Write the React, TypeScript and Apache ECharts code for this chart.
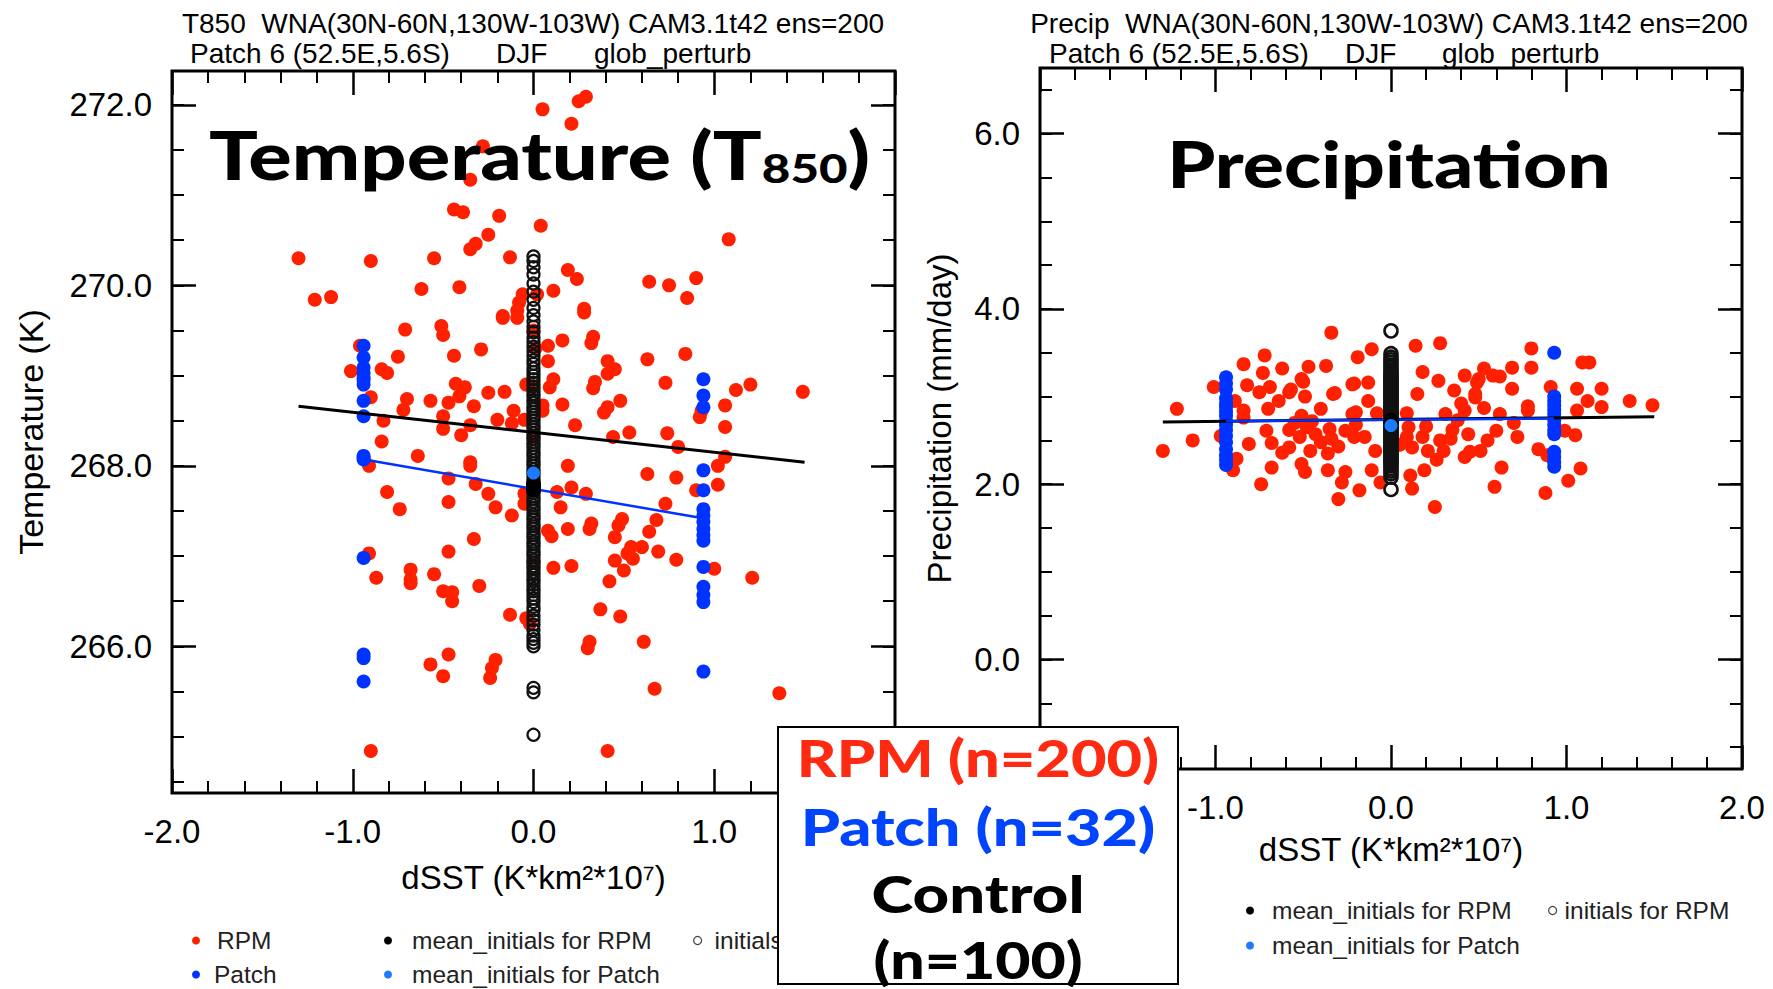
import React, { useEffect, useRef } from "react";
import * as echarts from "echarts";

// ---------------- DATA ----------------
// Left panel: T850 (K) vs dSST
const tempRPM: number[][] = [
  [0.05, 271.95], [0.25, 272.04], [0.29, 272.09], [0.21, 271.79], [-0.28, 271.54], [-0.35, 271.17],
  [-0.44, 270.84], [-0.39, 270.81], [-0.19, 270.77], [0.04, 270.66], [-0.25, 270.56], [-0.32, 270.46],
  [-0.35, 270.4], [1.08, 270.51], [-1.3, 270.3], [-0.9, 270.27], [-0.55, 270.3], [-0.13, 270.31],
  [0.19, 270.17], [0.24, 270.07], [0.11, 269.94], [0.64, 270.04], [0.75, 270.0], [0.9, 270.08],
  [0.85, 269.86], [-1.21, 269.84], [-1.12, 269.87], [-0.62, 269.96], [-0.41, 269.98], [0.28, 269.74],
  [-0.06, 269.9], [-0.08, 269.81], [-0.17, 269.66], [-0.09, 269.72],
  [-0.71, 269.51], [-0.51, 269.55], [-0.5, 269.45], [-0.17, 269.64], [-0.09, 269.64], [0.28, 269.7],
  [-0.96, 269.33], [-0.75, 269.21], [-0.44, 269.22], [-0.29, 269.29], [0.16, 269.39], [0.08, 269.33],
  [0.33, 269.43], [0.32, 269.36], [0.63, 269.18], [0.84, 269.24], [-1.01, 269.05], [-0.84, 269.07],
  [-0.81, 269.03], [0.08, 269.16], [0.41, 269.16], [0.45, 269.07], [0.41, 269.02], [0.73, 268.92],
  [-0.43, 268.91], [-0.38, 268.87], [-0.25, 268.81], [-0.16, 268.82], [-0.04, 268.9], [0.11, 268.96],
  [0.09, 268.87], [0.34, 268.93], [0.33, 268.86], [1.12, 268.84], [1.2, 268.9], [1.49, 268.82],
  [-0.9, 268.76], [-0.7, 268.74], [-0.57, 268.72], [-0.47, 268.7], [-0.41, 268.77], [-0.33, 268.66],
  [-0.72, 268.62], [-0.11, 268.61], [0.16, 268.68], [0.05, 268.67], [0.05, 268.61], [0.48, 268.72],
  [0.39, 268.59], [0.41, 268.65], [1.06, 268.67], [0.92, 268.54], [0.93, 268.61], [-0.5, 268.55],
  [-0.83, 268.5], [-0.5, 268.41], [-0.4, 268.34], [-0.35, 268.45], [-0.2, 268.51], [-0.12, 268.47],
  [-0.05, 268.51], [0.23, 268.45], [0.44, 268.32], [0.53, 268.37], [0.74, 268.36], [0.8, 268.21],
  [1.06, 268.43], [-0.84, 268.27], [-0.64, 268.11], [-0.91, 268.0], [-0.35, 268.04], [-0.35, 268.0],
  [0.19, 268.0], [1.02, 268.0], [1.06, 268.1], [0.63, 267.91], [0.79, 267.87], [-0.47, 267.86],
  [-0.32, 267.8], [1.02, 267.79], [0.9, 267.73], [-0.81, 267.71], [-0.25, 267.69], [-0.05, 267.69],
  [0.13, 267.71], [0.21, 267.76], [0.29, 267.69], [-0.74, 267.52], [-0.47, 267.6], [-0.21, 267.54],
  [-0.05, 267.58], [0.15, 267.54], [-0.12, 267.45], [0.73, 267.58], [0.49, 267.41], [0.68, 267.4],
  [0.32, 267.36], [0.31, 267.3], [0.19, 267.3], [0.47, 267.34], [0.64, 267.27], [0.08, 267.28],
  [0.1, 267.22], [-0.33, 267.19], [0.45, 267.21], [0.54, 267.1], [0.6, 267.1], [0.69, 267.05],
  [-0.91, 267.03], [-0.47, 267.05],
  [-0.87, 266.76], [-0.68, 266.85], [-0.68, 266.74], [-0.68, 266.7], [-0.55, 266.8], [-0.5, 266.61],
  [-0.45, 266.6], [-0.45, 266.5], [-0.3, 266.67], [0.11, 266.87], [0.21, 266.89], [0.45, 266.95],
  [0.52, 267.03], [0.55, 266.97], [0.5, 266.84], [0.79, 266.96], [1.0, 266.86], [1.21, 266.76],
  [0.42, 266.72], [-0.13, 266.35], [-0.04, 266.31], [-0.02, 266.25], [0.37, 266.41], [0.48, 266.33],
  [0.31, 266.05], [0.3, 265.98], [0.61, 266.05], [-0.47, 265.91], [-0.57, 265.8], [-0.5, 265.67],
  [-0.21, 265.85], [-0.23, 265.76], [-0.24, 265.65], [0.67, 265.53], [1.36, 265.48], [-0.9, 264.84],
  [0.41, 264.84],
  [0.0, 269.5], [0.01, 269.3], [-0.01, 268.88], [0.0, 266.93], [0.02, 269.9], [0.0, 268.3]
];
const tempPatch: number[][] = [
  [-0.94, 269.33], [-0.94, 269.2], [-0.94, 269.09], [-0.94, 269.03], [-0.94, 268.98], [-0.94, 268.95],
  [-0.94, 268.9], [-0.94, 268.72], [-0.94, 268.55], [-0.94, 268.11], [-0.94, 268.09], [-0.94, 268.07],
  [-0.94, 266.98], [-0.94, 265.91], [-0.94, 265.87], [-0.94, 265.61],
  [0.94, 268.96], [0.94, 268.78], [0.94, 268.65], [0.94, 267.95], [0.94, 267.73], [0.94, 267.52],
  [0.94, 267.45], [0.94, 267.38], [0.94, 267.3], [0.94, 267.23], [0.94, 267.17], [0.94, 266.88],
  [0.94, 266.66], [0.94, 266.57], [0.94, 266.49], [0.94, 265.72]
];
const tempInitials: number[] = [
  265.02, 265.49, 265.54, 266.0, 266.04, 266.08, 266.12, 266.18, 266.24, 266.29, 266.34, 266.4, 266.44,
  266.49, 266.53, 266.57, 266.61, 266.64, 266.68, 266.72, 266.75, 266.79, 266.82, 266.86, 266.89,
  266.93, 266.96, 267.0, 267.03, 267.06, 267.1, 267.13, 267.16, 267.2, 267.23, 267.26, 267.3, 267.33,
  267.36, 267.4, 267.43, 267.46, 267.5, 267.53, 267.56, 267.6, 267.63, 267.66, 267.7, 267.73, 267.76,
  267.8, 267.83, 267.86, 267.9, 267.93, 267.96, 268.0, 268.03, 268.06, 268.1, 268.13, 268.16, 268.2,
  268.23, 268.26, 268.3, 268.33, 268.36, 268.4, 268.43, 268.46, 268.5, 268.53, 268.56, 268.6, 268.63,
  268.66, 268.7, 268.73, 268.77, 268.8, 268.84, 268.88, 268.92, 268.96, 269.0, 269.04, 269.08, 269.13,
  269.17, 269.22, 269.27, 269.32, 269.37, 269.42, 269.48, 269.54, 269.6, 269.67, 269.75, 269.84,
  269.93, 270.02, 270.12, 270.2, 270.27, 270.32
];
const tempMeanInitRPM: number[] = [267.73, 267.77, 267.8];
const tempMeanInitPatch: number[] = [267.92];
const tempFitRPM: number[][] = [[-1.3, 268.66], [1.5, 268.04]];
const tempFitPatch: number[][] = [[-0.937, 268.07], [0.906, 267.43]];
const tempXLabels: number[] = [-2, -1, 0, 1];
const tempYMajor: number[] = [266, 268, 270, 272];
const tempYMinor: number[] = [264.5, 265, 265.5, 266, 266.5, 267, 267.5, 268, 268.5, 269, 269.5, 270, 270.5, 271, 271.5, 272];

// Right panel: Precipitation (mm/day) vs dSST
const precRPM: number[][] = [
  [-0.34, 3.73], [0.28, 3.61], [0.14, 3.58], [-0.11, 3.54], [0.8, 3.55], [-0.72, 3.47], [-0.19, 3.45],
  [-0.84, 3.37], [-0.62, 3.32], [-0.47, 3.34], [-0.37, 3.35], [1.09, 3.39], [1.13, 3.39], [0.69, 3.33],
  [0.8, 3.33], [0.53, 3.32], [-0.73, 3.27], [-0.51, 3.2], [0.18, 3.28], [0.42, 3.24], [0.58, 3.24],
  [-1.01, 3.11], [-0.82, 3.13], [-0.22, 3.14], [-0.13, 3.16], [0.27, 3.18], [0.49, 3.16], [1.2, 3.09],
  [1.06, 3.09], [-0.75, 3.05], [-0.33, 3.03], [-0.58, 3.05], [0.36, 3.07], [0.69, 3.09], [-1.22, 2.86],
  [-0.89, 2.95], [-0.64, 2.95], [-0.13, 2.95], [0.15, 3.03], [0.48, 2.99], [1.36, 2.95], [1.49, 2.9],
  [1.2, 2.88], [1.06, 2.84], [-0.4, 2.86], [-0.2, 2.82], [0.42, 2.84], [0.62, 2.8], [0.78, 2.84],
  [-0.84, 2.84],
  [-0.69, 3.11], [-0.57, 3.08], [-0.5, 3.17], [-0.49, 3.0], [-0.32, 3.04], [-0.21, 3.15], [0.5, 3.2],
  [0.48, 3.03], [0.4, 2.92], [0.53, 2.87], [0.62, 3.23], [0.78, 2.89], [0.91, 3.11],
  [-0.84, 2.76], [-0.71, 2.61], [-0.51, 2.78], [-0.22, 2.8], [-0.08, 2.81], [0.09, 2.81], [0.31, 2.8],
  [-1.13, 2.5], [-1.3, 2.38], [-0.81, 2.46], [-0.68, 2.47], [-0.58, 2.62], [-0.52, 2.54], [-0.48, 2.65],
  [-0.43, 2.57], [-0.4, 2.48], [-0.35, 2.63], [-0.34, 2.52], [-0.3, 2.43], [-0.46, 2.38], [-0.36, 2.35],
  [-0.26, 2.61], [-0.21, 2.54], [-0.15, 2.54], [-0.09, 2.38], [0.1, 2.65], [0.09, 2.54], [0.18, 2.54],
  [0.12, 2.42], [0.21, 2.38], [0.28, 2.5], [0.34, 2.52], [0.3, 2.38], [0.38, 2.73], [0.44, 2.57],
  [0.42, 2.31], [0.45, 2.37], [0.51, 2.38], [0.6, 2.61], [0.63, 2.19], [0.72, 2.54], [0.84, 2.4],
  [0.89, 2.33], [0.99, 2.61], [1.05, 2.56], [1.08, 2.18], [1.01, 2.04], [0.88, 1.9], [0.59, 1.97],
  [0.25, 1.74], [0.12, 1.95], [0.11, 2.1], [0.19, 2.16], [-0.06, 2.02], [-0.11, 2.16], [-0.18, 1.93],
  [-0.3, 1.83], [-0.28, 2.02], [-0.26, 2.14], [-0.36, 2.16], [-0.49, 2.14], [-0.51, 2.23], [-0.68, 2.19],
  [-0.74, 2.0], [-0.9, 2.16], [-0.88, 2.29],
  [-0.58, 2.42], [-0.55, 2.7], [-0.45, 2.72], [-0.62, 2.36], [0.2, 2.66], [0.35, 2.62], [0.55, 2.5],
  [-0.2, 2.68], [0.05, 2.45], [-0.7, 2.86], [0.7, 2.7], [-0.97, 2.55], [1.12, 2.95], [0.26, 2.28]
];
const precPatch: number[][] = [
  [-0.94, 3.22], [-0.94, 3.15], [-0.94, 3.08], [-0.94, 2.98], [-0.94, 2.92], [-0.94, 2.88],
  [-0.94, 2.83], [-0.94, 2.78], [-0.94, 2.72], [-0.94, 2.68], [-0.94, 2.62], [-0.94, 2.55],
  [-0.94, 2.48], [-0.94, 2.4], [-0.94, 2.33], [-0.94, 2.28], [-0.94, 2.22],
  [0.93, 3.5], [0.93, 3.0], [0.93, 2.95], [0.93, 2.9], [0.93, 2.85], [0.93, 2.8], [0.93, 2.74],
  [0.93, 2.68], [0.93, 2.62], [0.93, 2.57], [0.93, 2.37], [0.93, 2.31], [0.93, 2.25], [0.93, 2.2]
];
const precInitials: number[] = [
  1.94, 2.08, 2.12, 2.15, 2.18, 2.21, 2.23, 2.25, 2.27, 2.29, 2.31, 2.33, 2.35, 2.37, 2.39, 2.41, 2.43,
  2.45, 2.47, 2.49, 2.51, 2.53, 2.55, 2.57, 2.59, 2.61, 2.63, 2.65, 2.67, 2.69, 2.71, 2.73, 2.75, 2.77,
  2.79, 2.81, 2.83, 2.85, 2.87, 2.89, 2.91, 2.93, 2.95, 2.97, 2.99, 3.01, 3.03, 3.05, 3.07, 3.09, 3.11,
  3.13, 3.15, 3.17, 3.19, 3.21, 3.23, 3.25, 3.27, 3.3, 3.33, 3.36, 3.39, 3.42, 3.45, 3.49, 3.75
];
const precMeanInitRPM: number[] = [2.71, 2.73];
const precMeanInitPatch: number[] = [2.67];
const precFitRPM: number[][] = [[-1.3, 2.71], [1.5, 2.77]];
const precFitPatch: number[][] = [[-0.94, 2.72], [0.93, 2.75]];
const precXLabels: number[] = [-1, 0, 1, 2];
const precYMajor: number[] = [0, 2, 4, 6];
const precYMinor: number[] = [-1, -0.5, 0, 0.5, 1, 1.5, 2, 2.5, 3, 3.5, 4, 4.5, 5, 5.5, 6, 6.5];

const xTickMin = -2;
const xTickMax = 2;

const RED = "#ff2000";
const BLUE = "#0033ff";
const LIGHTBLUE = "#1e7bff";
const FONT = "Liberation Sans, Arial, sans-serif";
const BIGFONT = "Lato, Noto Sans, sans-serif";

function fmt1(v: number) {
  return Number(v).toFixed(1);
}

function xAxes(gridIndex: number, nameGap: number, labels: number[]) {
  const common = {
    gridIndex,
    type: "value",
    min: xTickMin,
    max: xTickMax,
    interval: 1,
    axisLine: { show: false, onZero: false },
    axisTick: { show: true, inside: true, length: 24, lineStyle: { color: "#000", width: 2.5 } },
    minorTick: { show: true, splitNumber: 5, length: 12, lineStyle: { color: "#000", width: 2 } },
    splitLine: { show: false },
    minorSplitLine: { show: false },
  };
  return [
    {
      ...common,
      position: "bottom",
      axisLabel: { show: true, customValues: labels, margin: 22, formatter: fmt1, fontSize: 33, fontFamily: FONT, color: "#000" },
      name: "dSST (K*km²*10⁷)",
      nameLocation: "middle",
      nameGap,
      nameTextStyle: { fontSize: 33, fontFamily: FONT, color: "#000" },
    },
    { ...common, position: "top", axisLabel: { show: false } },
  ];
}

function yAxes(gridIndex: number, min: number, max: number, majors: number[], minors: number[], name: string, nameGap: number, nameSize: number) {
  const base = {
    gridIndex,
    type: "value",
    min,
    max,
    axisLine: { show: false, onZero: false },
    splitLine: { show: false },
  };
  const major = { show: true, inside: true, length: 24, customValues: majors, lineStyle: { color: "#000", width: 2.5 } };
  const minor = { show: true, inside: true, length: 12, customValues: minors, lineStyle: { color: "#000", width: 2 } };
  return [
    {
      ...base,
      position: "left",
      axisTick: major,
      axisLabel: { show: true, customValues: majors, margin: 20, formatter: fmt1, fontSize: 33, fontFamily: FONT, color: "#000" },
      name,
      nameLocation: "middle",
      nameRotate: 90,
      nameGap,
      nameTextStyle: { fontSize: nameSize, fontFamily: FONT, color: "#000" },
    },
    { ...base, position: "left", axisTick: minor, axisLabel: { show: false } },
    { ...base, position: "right", axisTick: major, axisLabel: { show: false } },
    { ...base, position: "right", axisTick: minor, axisLabel: { show: false } },
  ];
}

function panelSeries(xi: number, yi: number, rpm: number[][], patch: number[][], initials: number[], meanR: number[], meanP: number[], fitR: number[][], fitP: number[][], ringSize: number, ringW: number) {
  return [
    { type: "scatter", name: "RPM", xAxisIndex: xi, yAxisIndex: yi, data: rpm, symbol: "circle", symbolSize: 14, itemStyle: { color: RED, opacity: 1 }, z: 2 },
    { type: "scatter", name: "Patch", xAxisIndex: xi, yAxisIndex: yi, data: patch, symbol: "circle", symbolSize: 14, itemStyle: { color: BLUE, opacity: 1 }, z: 3 },
    {
      type: "scatter", name: "initials for RPM", xAxisIndex: xi, yAxisIndex: yi,
      data: initials.map((v) => [0, v]), symbol: "circle", symbolSize: ringSize,
      itemStyle: { color: "rgba(0,0,0,0)", borderColor: "#111", borderWidth: ringW, opacity: 1 }, z: 4,
    },
    { type: "line", name: "fit RPM", xAxisIndex: xi, yAxisIndex: yi, data: fitR, symbol: "none", showSymbol: false, lineStyle: { color: "#000", width: 3 }, z: 5 },
    { type: "line", name: "fit Patch", xAxisIndex: xi, yAxisIndex: yi, data: fitP, symbol: "none", showSymbol: false, lineStyle: { color: BLUE, width: 2.5 }, z: 5 },
    { type: "scatter", name: "mean_initials for RPM", xAxisIndex: xi, yAxisIndex: yi, data: meanR.map((v) => [0, v]), symbol: "circle", symbolSize: 15, itemStyle: { color: "#000", opacity: 1 }, z: 6 },
    { type: "scatter", name: "mean_initials for Patch", xAxisIndex: xi, yAxisIndex: yi, data: meanP.map((v) => [0, v]), symbol: "circle", symbolSize: 13, itemStyle: { color: LIGHTBLUE, opacity: 1 }, z: 6 },
  ];
}

function legendItem(name: string, left: number, top: number, pad: number, hollow?: boolean) {
  const item: any = { name, icon: "circle" };
  if (hollow) item.itemStyle = { color: "#fff", borderColor: "#444", borderWidth: 1.2 };
  return {
    data: [item],
    left,
    top,
    padding: 0,
    itemWidth: 8,
    itemHeight: 8,
    selectedMode: false,
    textStyle: { fontSize: 24.5, fontFamily: FONT, color: "#222", padding: [0, 0, 0, pad] },
  };
}

function txt(text: string, x: number, y: number, fontSize: number, align = "left", extra: any = {}, scaleX = 1) {
  return {
    type: "text",
    x,
    y,
    z: 100,
    scaleX,
    style: {
      text,
      fontSize,
      fontFamily: FONT,
      fill: "#000",
      align,
      verticalAlign: "middle",
      textAlign: align,
      textVerticalAlign: "middle",
      ...extra,
    },
  };
}

const BIG = { fontFamily: BIGFONT, fontWeight: 900 };

export default function App() {
  const ref = useRef<HTMLDivElement>(null);
  useEffect(() => {
    if (!ref.current) return;
    const chart = echarts.init(ref.current, null, { renderer: "svg" });
    const option: any = {
      animation: false,
      backgroundColor: "#fff",
      grid: [
        { left: 172, top: 71, width: 723, height: 722, show: true, borderColor: "#000", borderWidth: 3, backgroundColor: "rgba(0,0,0,0)", containLabel: false },
        { left: 1040, top: 68, width: 702, height: 701, show: true, borderColor: "#000", borderWidth: 3, backgroundColor: "rgba(0,0,0,0)", containLabel: false },
      ],
      xAxis: [...xAxes(0, 68, tempXLabels), ...xAxes(1, 64, precXLabels)],
      yAxis: [
        ...yAxes(0, 264.375, 272.375, tempYMajor, tempYMinor, "Temperature (K)", 124, 34),
        ...yAxes(1, -1.25, 6.75, precYMajor, precYMinor, "Precipitation (mm/day)", 84, 33),
      ],
      legend: [
        legendItem("RPM", 192, 928, 12),
        legendItem("Patch", 192, 962, 9),
        legendItem("mean_initials for RPM", 384, 928, 15),
        legendItem("mean_initials for Patch", 384, 962, 15),
        legendItem("initials for RPM", 693, 928, 8, true),
        legendItem("mean_initials for RPM", 1246, 898, 13),
        legendItem("mean_initials for Patch", 1246, 933, 13),
        legendItem("initials for RPM", 1548, 898, 3, true),
      ],
      series: [
        ...panelSeries(0, 0, tempRPM, tempPatch, tempInitials, tempMeanInitRPM, tempMeanInitPatch, tempFitRPM, tempFitPatch, 12, 2.2),
        ...panelSeries(2, 4, precRPM, precPatch, precInitials, precMeanInitRPM, precMeanInitPatch, precFitRPM, precFitPatch, 13, 2.6),
      ],
      graphic: [
        txt("T850  WNA(30N-60N,130W-103W) CAM3.1t42 ens=200", 533, 23, 28, "center"),
        txt("Patch 6 (52.5E,5.6S)", 190, 53, 28),
        txt("DJF", 496, 53, 28),
        txt("glob_perturb", 594, 53, 28),
        txt("Precip  WNA(30N-60N,130W-103W) CAM3.1t42 ens=200", 1389, 23, 28, "center"),
        txt("Patch 6 (52.5E,5.6S)", 1049, 53, 28),
        txt("DJF", 1345, 53, 28),
        txt("glob_perturb", 1442, 53, 28),
        {
          type: "text",
          x: 209,
          y: 155,
          z: 100,
          scaleX: 1.23,
          style: {
            text: "{a|Temperature (T}{b|850}{a|)}",
            align: "left",
            verticalAlign: "middle",
            textAlign: "left",
            textVerticalAlign: "middle",
            rich: {
              a: { fontSize: 66, fontFamily: BIGFONT, fontWeight: 900, fill: "#000", color: "#000" },
              b: { fontSize: 40, fontFamily: BIGFONT, fontWeight: 900, fill: "#000", color: "#000", verticalAlign: "bottom" },
            },
          },
        },
        txt("Precipitation", 1389, 163, 64, "center", BIG, 1.2),
        {
          type: "rect",
          z: 100,
          shape: { x: 778, y: 727, width: 400, height: 257 },
          style: { fill: "#fff", stroke: "#000", lineWidth: 2 },
        },
        txt("RPM (n=200)", 978, 757, 52, "center", { ...BIG, fill: "#ff2a12" }, 1.18),
        txt("Patch (n=32)", 978, 826, 52, "center", { ...BIG, fill: "#0044ff" }, 1.21),
        txt("Control", 978, 893, 52, "center", { ...BIG, fill: "#000" }, 1.22),
        txt("(n=100)", 978, 959, 52, "center", { ...BIG, fill: "#000" }, 1.17),
      ],
    };
    chart.setOption(option);
    return () => chart.dispose();
  }, []);
  return (
    <div
      ref={ref}
      style={{ position: "fixed", left: 0, top: 0, width: 1773, height: 989, background: "#fff" }}
    />
  );
}
